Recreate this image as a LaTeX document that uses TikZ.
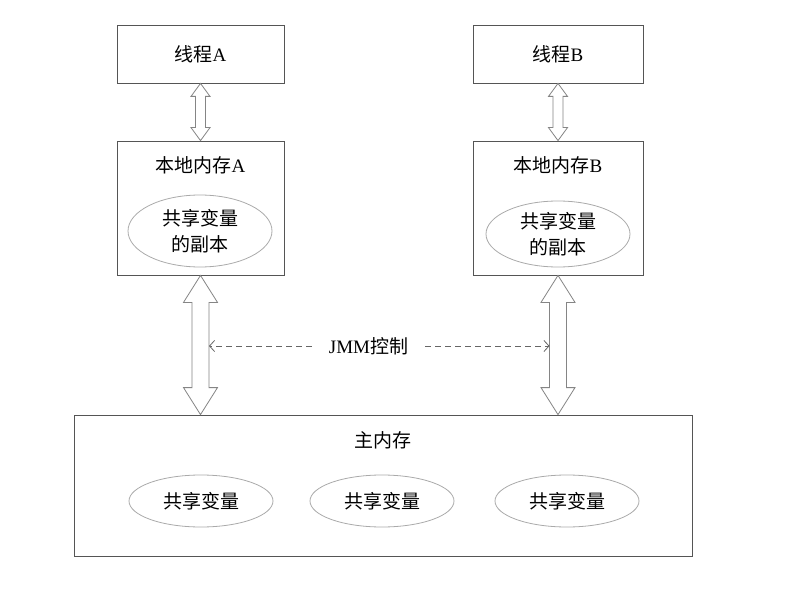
\documentclass[tikz,border=0pt]{standalone}
\usepackage{fontspec}
\setmainfont{Liberation Serif}
\newfontfamily\cjk{Noto Sans CJK SC}
\usetikzlibrary{calc,arrows.meta,shapes.geometric}
\definecolor{boxc}{HTML}{555555}
\definecolor{ellc}{HTML}{AAAAAA}
\definecolor{arrc}{HTML}{858585}
\definecolor{dashc}{HTML}{666666}
\tikzset{
 boxst/.style={draw=boxc, line width=0.8pt, inner sep=0pt},
 ellst/.style={ellipse, draw=ellc, line width=0.8pt, inner sep=0pt},
 txt/.style={font=\fontsize{19}{26}\selectfont, text=black, inner sep=0pt, align=center},
 fat/.style={draw=arrc, line width=0.8pt, fill=white, line join=miter},
 ctrl/.style={draw=dashc, line width=0.8pt, dash pattern=on 6pt off 4pt, -{Straight Barb[length=5pt,width=11pt]}}
}
\newcommand\fatarrow[5]{\path[fat] let \p1=(#1), \p2=(#2) in (\x1,\y1) -- (\x1+#4,\y1-#5) -- (\x1+#3,\y1-#5) -- (\x2+#3,\y2+#5) -- (\x2+#4,\y2+#5) -- (\x2,\y2) -- (\x2-#4,\y2+#5) -- (\x2-#3,\y2+#5) -- (\x1-#3,\y1-#5) -- (\x1-#4,\y1-#5) -- cycle;}
\begin{document}
\begin{tikzpicture}[x=1pt,y=-1pt]
\useasboundingbox[fill=white] (0,0) rectangle (809,591);
% threads
\node[boxst, txt, minimum width=167pt, minimum height=58pt] (ta) at (200.5,54) {{\cjk 线程}A};
\node[boxst, txt, minimum width=170pt, minimum height=58pt] (tb) at (558,54) {{\cjk 线程}B};
% local memories
\node[boxst, minimum width=167pt, minimum height=134pt] (la) at (200.5,208) {};
\node[boxst, minimum width=170pt, minimum height=134pt] (lb) at (558,208) {};
\node[txt] (lat) at (200.5,165) {{\cjk 本地内存}A};
\node[txt] (lbt) at (558,165) {{\cjk 本地内存}B};
\node[ellst, txt, minimum width=144pt, minimum height=72pt] (ea) at (200,231) {\cjk 共享变量\\\cjk 的副本};
\node[ellst, txt, minimum width=144pt, minimum height=66pt] (eb) at (558,234) {\cjk 共享变量\\\cjk 的副本};
% main memory
\node[boxst, minimum width=618pt, minimum height=141pt] (mm) at (383,485.5) {};
\node[txt] (mmt) at (383,440) {\cjk 主内存};
\node[ellst, txt, minimum width=144pt, minimum height=52pt] (v1) at (201,501) {\cjk 共享变量};
\node[ellst, txt, minimum width=144pt, minimum height=52pt] (v2) at (382,501) {\cjk 共享变量};
\node[ellst, txt, minimum width=144pt, minimum height=52pt] (v3) at (567,501) {\cjk 共享变量};
% arrows thread <-> local
\fatarrow{ta.south}{la.north}{5pt}{9.5pt}{13pt}
\fatarrow{tb.south}{lb.north}{5pt}{9.5pt}{13pt}
% arrows local <-> main
\fatarrow{la.south}{la.south |- mm.north}{8.5pt}{17pt}{27pt}
\fatarrow{lb.south}{lb.south |- mm.north}{8.5pt}{17pt}{27pt}
% JMM control
\node[txt, minimum width=113pt] (jmm) at (368.5,346) {JMM{\cjk 控制}};
\coordinate (jl) at ($(la.south |- jmm.center)+(8.5pt,0)$);
\coordinate (jr) at ($(lb.south |- jmm.center)+(-8.5pt,0)$);
\draw[ctrl] (jmm.west) -- (jl);
\draw[ctrl] (jmm.east) -- (jr);
\end{tikzpicture}
\end{document}
